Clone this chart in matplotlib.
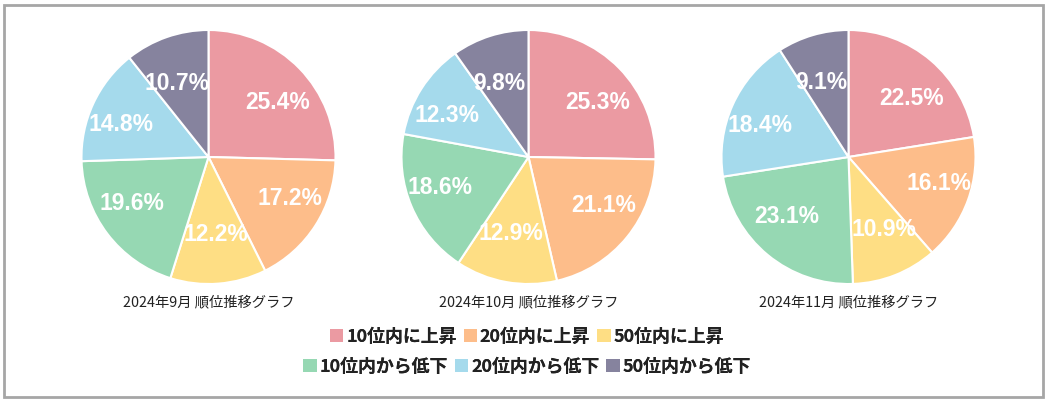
import matplotlib.pyplot as plt
from matplotlib.patches import Rectangle

# データ
categories = ['10位内に上昇', '20位内に上昇', '50位内に上昇',
              '10位内から低下', '20位内から低下', '50位内から低下']
titles = ['2024年9月 順位推移グラフ', '2024年10月 順位推移グラフ', '2024年11月 順位推移グラフ']
sep_values = [25.4, 17.2, 12.2, 19.6, 14.8, 10.7]
oct_values = [25.3, 21.1, 12.9, 18.6, 12.3, 9.8]
nov_values = [22.5, 16.1, 10.9, 23.1, 18.4, 9.1]
colors = ['#EB9AA2', '#FDBD8A', '#FEDE84', '#96D8B3', '#A5DAEC', '#86839E']

W, H = 1048, 401
plt.rcParams['font.family'] = ['Noto Sans CJK JP', 'DejaVu Sans']
fig = plt.figure(figsize=(W / 100, H / 100), dpi=100)

# 外枠
fig.patches.append(Rectangle((4 / W, 4 / H), 1039 / W, 392 / H, transform=fig.transFigure,
                             fill=False, edgecolor='#a6a6a6', linewidth=2))

centers = [208.5, 528.5, 848.5]
cy, r = 157, 127
pd = 0.7
for cx, vals, title in zip(centers, [sep_values, oct_values, nov_values], titles):
    ax = fig.add_axes([(cx - r) / W, (H - cy - r) / H, 2 * r / W, 2 * r / H])
    wedges, texts, autotexts = ax.pie(vals, colors=colors, startangle=90, counterclock=False,
                                      autopct=lambda p: f'{p:.1f}%', pctdistance=pd,
                                      wedgeprops=dict(edgecolor='white', linewidth=1.5),
                                      textprops=dict(color='white', fontsize=16.5, fontweight='bold',
                                                     family='Liberation Sans'))
    # ラベル位置を少し横長に
    for t in autotexts:
        x, y = t.get_position()
        t.set_position((x * 0.76 / pd, y * 0.61 / pd))
    ax.set_xlim(-1, 1)
    ax.set_ylim(-1, 1)
    fig.text(cx / W, 1 - 302 / H, title, ha='center', va='center', fontsize=10.3, color='#222222')

handles = [Rectangle((0, 0), 1, 1, facecolor=c, edgecolor='none') for c in colors]
for row, ypix in enumerate([337, 367]):
    idx = slice(row * 3, row * 3 + 3)
    leg = fig.legend(handles[idx], categories[idx], loc='center', bbox_to_anchor=(527 / W, 1 - ypix / H),
                     ncol=3, frameon=False, handlelength=0.75, handleheight=0.75, handletextpad=0.15,
                     columnspacing=0.4, borderpad=0, borderaxespad=0,
                     prop=dict(size=12.9, weight='bold'))
    for t in leg.get_texts():
        t.set_color('#222222')
    fig.add_artist(leg)

fig.savefig('out.png', dpi=100)
